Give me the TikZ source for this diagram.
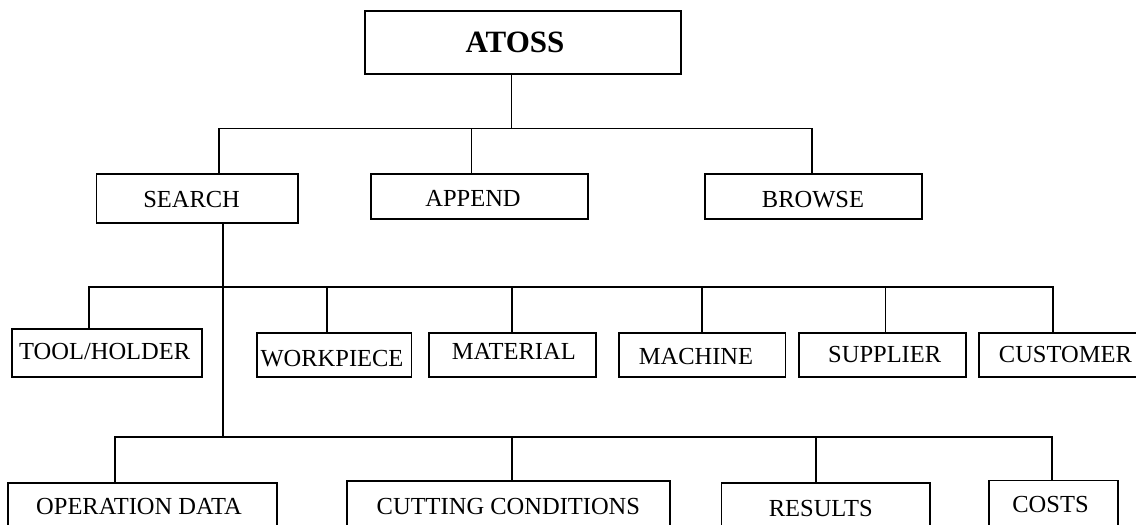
\documentclass[tikz,border=0pt]{standalone}
\usepackage{fontspec}
\setmainfont{Liberation Serif}
\begin{document}
\begin{tikzpicture}[x=1pt,y=-1pt,
  box/.style={draw=black,line width=1.8pt,rectangle,inner sep=0pt},
  lbl/.style={inner sep=0pt,anchor=base,font=\fontsize{24.5}{26}\selectfont},
  title/.style={inner sep=0pt,anchor=base,font=\fontsize{31}{33}\selectfont\bfseries},
  conn/.style={draw=black,line width=1.8pt,line cap=rect}]
\useasboundingbox (0,0) rectangle (1136,525);
\clip (0,0) rectangle (1136,525);
\fill[white] (0,0) rectangle (1136,525);
% boxes: left, top, right, bottom
\newcommand{\mkbox}[5]{%
  \node[box,minimum width={#4-#2},minimum height={#5-#3}] (#1) at ({(#2+#4)/2},{(#3+#5)/2}) {};}
\mkbox{atoss}{365.3}{10.7}{681}{74}
\mkbox{search}{96.4}{174}{297.7}{222.7}
\mkbox{append}{371}{174}{588}{219}
\mkbox{browse}{705}{174}{922}{219.3}
\mkbox{tool}{12.2}{328.7}{201.7}{376.7}
\mkbox{work}{256.8}{332.7}{411.4}{376.7}
\mkbox{material}{429}{332.7}{595.8}{376.7}
\mkbox{machine}{619.1}{332.7}{785.5}{376.7}
\mkbox{supplier}{799.1}{332.7}{965.9}{376.7}
\mkbox{customer}{979.1}{332.7}{1160}{376.7}
\mkbox{opdata}{8.3}{483}{276.7}{545}
\mkbox{cutting}{346.9}{481.2}{669.8}{545}
\mkbox{results}{721.5}{483}{929.8}{545}
\mkbox{costs}{989.3}{480.5}{1118.2}{545}
% labels
\node[title] (atoss-t) at (515,52) {ATOSS};
\node[lbl] (search-t) at (191.6,207.5) {SEARCH};
\node[lbl] (append-t) at (473,206.5) {APPEND};
\node[lbl] (browse-t) at (813,207.8) {BROWSE};
\node[lbl] (tool-t) at (104.7,359.5) {TOOL/HOLDER};
\node[lbl] (work-t) at (332,366) {WORKPIECE};
\node[lbl] (material-t) at (513.8,359.5) {MATERIAL};
\node[lbl] (machine-t) at (696,364.5) {MACHINE};
\node[lbl] (supplier-t) at (884.7,362) {SUPPLIER};
\node[lbl] (customer-t) at (1065.4,362) {CUSTOMER};
\node[lbl] (opdata-t) at (139,514.5) {OPERATION DATA};
\node[lbl] (cutting-t) at (508.4,514.5) {CUTTING CONDITIONS};
\node[lbl] (results-t) at (820.8,516) {RESULTS};
\node[lbl] (costs-t) at (1050.5,512.8) {COSTS};
% junction coordinates
\coordinate (b1) at (511.5,128.5);
\coordinate (b1w) at (219,128.5);
\coordinate (b1m) at (471.5,128.5);
\coordinate (b1e) at (811.6,128.5);
\coordinate (s2) at (223,286.7);
\coordinate (s3) at (223,436.7);
\coordinate (b2w) at (88.8,286.7);
\coordinate (b2a) at (327.2,286.7);
\coordinate (b2b) at (511.7,286.7);
\coordinate (b2c) at (701.8,286.7);
\coordinate (b2d) at (885.4,286.7);
\coordinate (b2e) at (1053.3,286.7);
\coordinate (b3w) at (114.8,436.7);
\coordinate (b3a) at (511.7,436.7);
\coordinate (b3b) at (816,436.7);
\coordinate (b3e) at (1052.2,436.7);
% connectors
\draw[conn] (b1 |- atoss.south) -- (b1);
\draw[conn] (b1w) -- (b1e);
\draw[conn] (b1w) -- (b1w |- search.north);
\draw[conn] (b1m) -- (b1m |- append.north);
\draw[conn] (b1e) -- (b1e |- browse.north);
\draw[conn] (s3 |- search.south) -- (s3);
\draw[conn] (b2w) -- (b2e);
\draw[conn] (b2w) -- (b2w |- tool.north);
\draw[conn] (b2a) -- (b2a |- work.north);
\draw[conn] (b2b) -- (b2b |- material.north);
\draw[conn] (b2c) -- (b2c |- machine.north);
\draw[conn] (b2d) -- (b2d |- supplier.north);
\draw[conn] (b2e) -- (b2e |- customer.north);
\draw[conn] (b3w) -- (b3e);
\draw[conn] (b3w) -- (b3w |- opdata.north);
\draw[conn] (b3a) -- (b3a |- cutting.north);
\draw[conn] (b3b) -- (b3b |- results.north);
\draw[conn] (b3e) -- (b3e |- costs.north);
\end{tikzpicture}
\end{document}
